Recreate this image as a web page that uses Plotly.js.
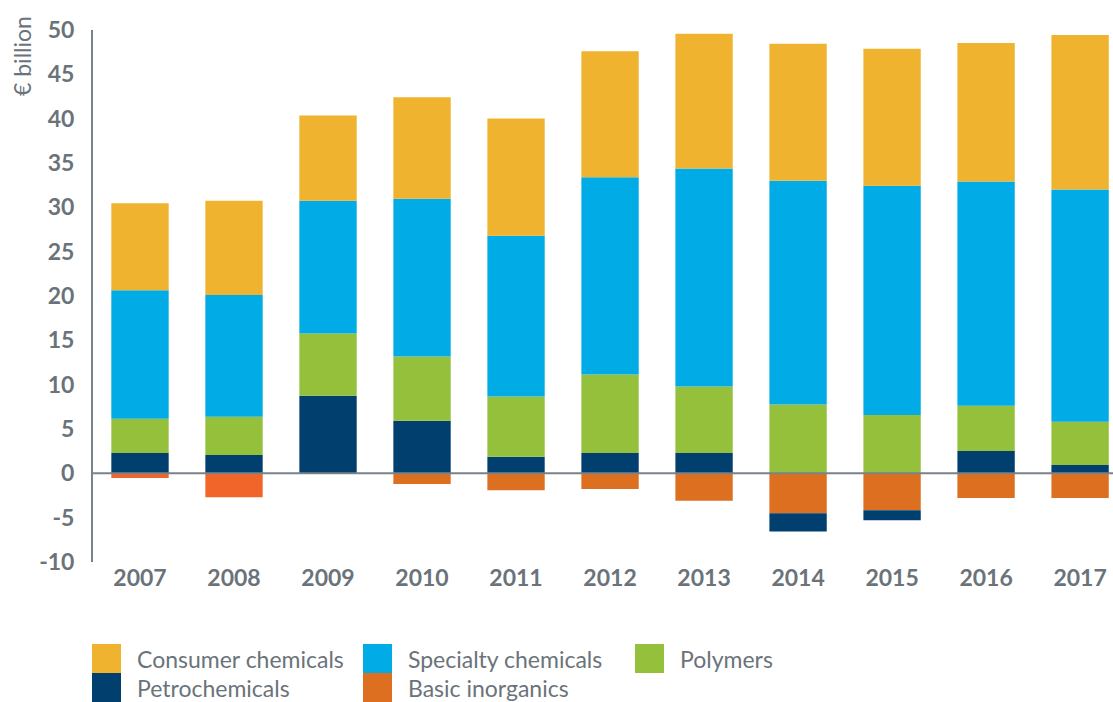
<!DOCTYPE html>
<html>
<head>
<meta charset="utf-8">
<script src="https://cdn.plot.ly/plotly-3.0.1.min.js"></script>
<style>
  html, body { margin: 0; padding: 0; background: #fff; }
  #chart { width: 1113px; height: 702px; }
</style>
</head>
<body>
<div id="chart"></div>
<script>
// values, € billion
const years     = ['2007', '2008', '2009', '2010', '2011', '2012', '2013', '2014', '2015', '2016', '2017']
const consumer  = [9.8, 10.65, 9.62, 11.45, 13.23, 14.22, 15.18, 15.44, 15.44, 15.62, 17.44]
const specialty = [14.5, 13.73, 14.97, 17.78, 18.13, 22.25, 24.59, 25.24, 25.85, 25.28, 26.19]
const polymers  = [3.86, 4.29, 7.02, 7.24, 6.81, 8.84, 7.5, 7.76, 6.59, 5.11, 4.86]
const petro     = [2.3, 2.08, 8.76, 5.94, 1.86, 2.3, 2.3, -2.04, -1.13, 2.52, 0.95]
const basic     = [-0.52, -2.69, 0, -1.21, -1.91, -1.78, -3.08, -4.51, -4.16, -2.78, -2.78]
const yTicks    = [-10, -5, 0, 5, 10, 15, 20, 25, 30, 35, 40, 45, 50]
const yTickText = ['-10', '-5', '0', '5', '10', '15', '20', '25', '30', '35', '40', '45', '50']

const grey       = '#6b737a'
const tick_font  = { family: 'Lato, sans-serif', size: 23, color: grey, weight: 700 }
const label_font = { family: 'Lato, sans-serif', size: 23, color: grey }

// 2007 and 2008 basic inorganics are drawn in a brighter orange
const basic_colors = years.map(y => (y === '2007' || y === '2008') ? '#f2652a' : '#dd6f20')

// trace order: basic first so its negatives sit next to zero, petro below it
const series = [
    { name: 'Basic inorganics',    y: basic,     color: basic_colors, swatch: '#dd6f20' },
    { name: 'Petrochemicals',      y: petro,     color: '#003f6e' },
    { name: 'Polymers',            y: polymers,  color: '#94c03b' },
    { name: 'Specialty chemicals', y: specialty, color: '#00abe6' },
    { name: 'Consumer chemicals',  y: consumer,  color: '#efb32f' },
]
const legend_order = ['Consumer chemicals', 'Specialty chemicals', 'Polymers', 'Petrochemicals', 'Basic inorganics']

const data = series.map(s => ({
    x: years,
    y: s.y,
    name: s.name,
    type: 'bar',
    marker: { color: s.color, line: { width: 0 } },
    showlegend: false,
    hoverinfo: 'x+y+name'
}))

// legend drawn by hand: big square swatches, 3 per row
const W = 1113, H = 702
const margin = { l: 93, r: 0, t: 30, b: 140 }
const plotW = W - margin.l - margin.r
const plotH = H - margin.t - margin.b
const px = (x) => (x - margin.l) / plotW
const py = (y) => (H - margin.b - y) / plotH
const col_x = [92, 363, 635]
const row_y = [644, 673]
const sw = 29

const shapes = [{
    type: 'line', xref: 'paper', yref: 'y',
    x0: 0, x1: 1, y0: 0, y1: 0,
    line: { color: '#7a8288', width: 2 },
    layer: 'above'
}]
const annotations = [{
    text: '€ billion', xref: 'paper', yref: 'paper',
    x: px(22), y: py(56), textangle: -90,
    xanchor: 'center', yanchor: 'middle', showarrow: false,
    font: { family: 'Lato, sans-serif', size: 23, color: grey }
}]
legend_order.forEach((name, i) => {
    const s = series.find(d => d.name === name)
    const cx = col_x[i % 3]
    const ry = row_y[Math.floor(i / 3)]
    shapes.push({
        type: 'rect', xref: 'paper', yref: 'paper',
        x0: px(cx), x1: px(cx + sw), y0: py(ry), y1: py(ry + sw),
        fillcolor: s.swatch || s.color, line: { width: 0 }
    })
    annotations.push({
        text: name, xref: 'paper', yref: 'paper',
        x: px(cx + 43), y: py(ry + sw / 2), xanchor: 'left', yanchor: 'middle',
        showarrow: false, font: label_font
    })
})

const layout = {
    width: W,
    height: H,
    margin: margin,
    paper_bgcolor: '#ffffff',
    plot_bgcolor: '#ffffff',
    barmode: 'relative',
    bargap: 0.39,
    showlegend: false,
    xaxis: {
        type: 'category',
        range: [-0.5, 10.35],
        showgrid: false,
        showline: false,
        zeroline: false,
        ticks: '',
        tickfont: tick_font,
        fixedrange: true
    },
    yaxis: {
        range: [-10, 50],
        tickmode: 'array',
        tickvals: yTicks,
        ticktext: yTickText,
        showgrid: false,
        zeroline: false,
        showline: true,
        linecolor: '#7a8288',
        linewidth: 2,
        ticks: '',
        ticklabelstandoff: 12,
        tickfont: tick_font,
        fixedrange: true
    },
    shapes: shapes,
    annotations: annotations
}

Plotly.newPlot('chart', data, layout, { displayModeBar: false, staticPlot: true })
</script>
</body>
</html>
